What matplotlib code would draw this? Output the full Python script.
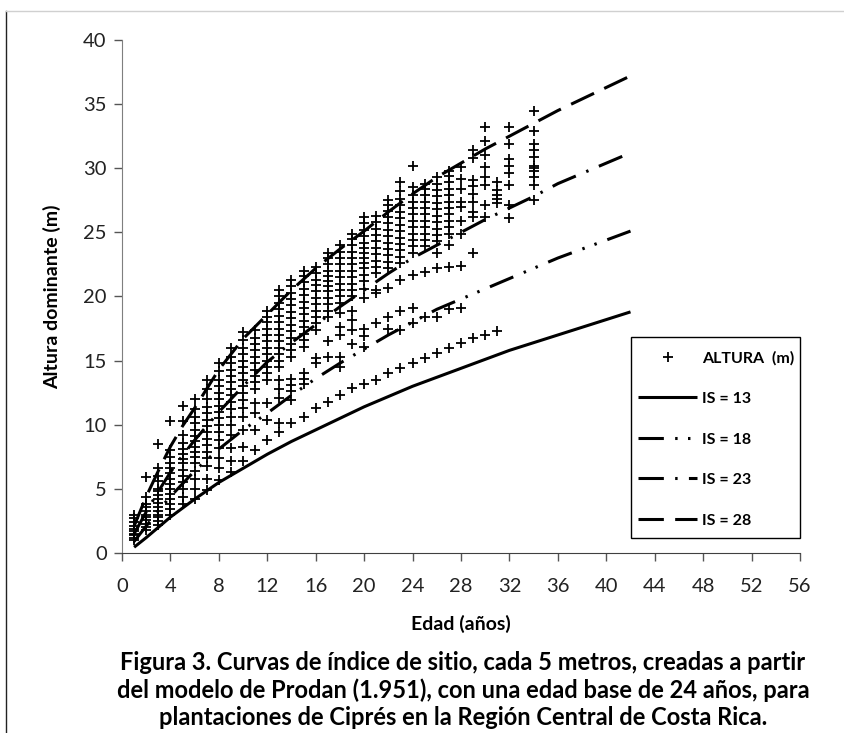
import matplotlib
matplotlib.use("Agg")
import matplotlib.pyplot as plt
from matplotlib.lines import Line2D
from matplotlib.patches import Rectangle

# observed dominant heights (m) by age (years)
edad_obs = [1, 2, 3, 4, 5, 6, 7, 8, 9, 10, 11, 12, 13, 14, 15, 16, 17,
            18, 19, 20, 21, 22, 23, 24, 25, 26, 27, 28, 29, 30, 31, 32, 34]
altura_obs = [
    [1.0, 1.2, 1.4, 1.5, 1.7, 1.9, 2.1, 2.4, 2.7, 3.0],
    [1.8, 2.0, 2.3, 2.6, 2.8, 3.0, 3.3, 3.6, 3.8, 4.4, 5.9],
    [2.2, 2.5, 2.8, 3.0, 3.3, 3.6, 3.9, 4.2, 4.5, 4.8, 5.0, 5.6, 6.0, 6.6, 8.5],
    [3.0, 3.4, 3.8, 4.2, 4.6, 5.0, 5.4, 5.8, 6.2, 6.6, 7.0, 7.5, 8.0, 10.3],
    [3.8, 4.4, 5.0, 5.5, 6.0, 6.5, 7.0, 7.3, 7.7, 8.1, 8.6, 9.2, 10.3, 11.5],
    [4.2, 5.0, 5.8, 6.4, 7.0, 7.5, 7.9, 8.3, 8.7, 9.1, 9.6, 10.1, 10.6, 11.2, 12.0],
    [4.9, 5.8, 6.8, 7.4, 7.9, 8.4, 8.9, 9.4, 9.9, 10.4, 10.9, 11.4, 12.0, 12.8, 13.5],
    [5.7, 6.6, 7.4, 8.2, 8.8, 9.4, 10.0, 10.5, 11.0, 11.5, 12.0, 12.5, 13.0, 13.5, 14.2, 14.8],
    [6.3, 7.2, 8.2, 9.2, 10.0, 10.6, 11.2, 11.8, 12.3, 12.8, 13.3, 13.8, 14.3, 14.8, 15.3, 16.0],
    [7.2, 8.3, 9.6, 10.6, 11.3, 11.9, 12.5, 13.0, 13.5, 14.0, 14.5, 15.0, 15.5, 16.0, 16.6, 17.2],
    [8.0, 9.6, 10.9, 11.7, 12.8, 13.3, 13.8, 14.3, 14.8, 15.3, 15.8, 16.3, 16.8, 17.4],
    [8.8, 10.4, 11.7, 13.5, 14.0, 14.5, 15.0, 15.5, 16.0, 16.5, 17.0, 17.5, 18.0, 18.4, 18.9],
    [9.4, 10.1, 12.1, 12.8, 13.5, 14.5, 15.0, 15.5, 16.0, 16.5, 17.0, 17.5, 18.0, 18.5, 19.0,
     19.5, 20.0, 20.5],
    [10.1, 11.9, 12.6, 13.1, 13.6, 15.3, 15.8, 16.3, 16.8, 17.3, 17.8, 18.3, 18.8, 19.3, 19.8,
     20.3, 20.8, 21.3],
    [10.6, 13.2, 13.6, 14.0, 16.1, 16.6, 17.1, 17.6, 18.1, 18.6, 19.1, 19.6, 20.1, 20.6, 21.1,
     21.6, 22.0],
    [11.3, 14.8, 15.2, 17.4, 17.9, 18.4, 18.9, 19.4, 19.9, 20.4, 20.9, 21.3, 21.8, 22.3],
    [11.8, 15.3, 16.5, 18.4, 18.9, 19.4, 19.9, 20.4, 20.8, 21.2, 21.6, 22.0, 22.5, 23.0, 23.4],
    [12.3, 14.5, 15.3, 17.0, 17.6, 18.7, 19.5, 20.0, 20.5, 21.0, 21.5, 22.0, 22.5, 23.0, 23.5, 24.0],
    [12.9, 16.3, 17.4, 18.2, 18.9, 20.0, 20.5, 21.0, 21.5, 22.0, 22.5, 23.0, 23.5, 24.0, 24.5, 24.9],
    [13.2, 16.1, 16.9, 17.5, 19.9, 20.6, 21.2, 21.7, 22.2, 22.6, 23.0, 23.4, 23.8, 24.2, 24.7,
     25.2, 25.7, 26.2],
    [13.5, 17.9, 20.3, 20.5, 21.8, 22.3, 22.8, 23.3, 23.8, 24.3, 24.8, 25.3, 25.8, 26.3],
    [14.0, 17.5, 18.4, 20.7, 22.2, 22.7, 23.2, 23.7, 24.2, 24.7, 25.2, 25.7, 26.2, 26.7, 27.1, 27.5],
    [14.4, 17.4, 18.9, 21.3, 22.6, 23.1, 23.6, 24.1, 24.6, 25.1, 25.6, 26.1, 26.6, 27.1, 27.6,
     28.2, 28.9],
    [14.8, 17.9, 19.1, 21.7, 23.4, 23.9, 24.4, 24.9, 25.4, 25.9, 26.4, 26.9, 27.4, 27.9, 28.5, 30.2],
    [15.2, 18.4, 21.9, 23.9, 24.4, 24.9, 25.4, 25.9, 26.4, 26.9, 27.4, 27.9, 28.4, 28.8],
    [15.6, 18.4, 22.2, 23.4, 24.3, 24.8, 25.3, 25.8, 26.3, 26.8, 27.3, 27.8, 28.3, 28.8, 29.3],
    [16.0, 19.0, 22.3, 24.0, 24.9, 25.4, 25.9, 26.4, 26.9, 27.4, 27.9, 28.4, 28.9, 29.4, 29.8],
    [16.4, 19.1, 22.4, 24.9, 25.9, 27.0, 27.4, 28.4, 29.2, 30.1],
    [16.8, 23.4, 26.2, 26.6, 27.4, 28.0, 28.6, 29.1, 30.8, 31.4],
    [17.0, 26.2, 27.1, 28.7, 29.3, 30.1, 31.0, 32.1, 33.2],
    [17.3, 27.3, 27.6, 27.9, 28.3, 28.9],
    [26.1, 27.1, 28.7, 29.6, 30.2, 30.7, 31.9, 33.2],
    [27.5, 28.7, 29.3, 29.8, 30.0, 30.2, 30.9, 31.4, 31.9, 32.9, 34.5],
]

# site index curves (Prodan)
edad_curva = [1, 2, 3, 4, 5, 6, 8, 10, 12, 14, 16, 18, 20, 22, 24,
              26, 28, 30, 32, 34, 36, 38, 40, 42]
is13 = [0.45, 1.2, 2.0, 2.8, 3.5, 4.2, 5.5, 6.6, 7.7, 8.7, 9.6, 10.5, 11.4, 12.2, 13.0,
        13.7, 14.4, 15.1, 15.8, 16.4, 17.0, 17.6, 18.2, 18.8]
is18 = [0.9, 2.1, 3.3, 4.4, 5.4, 6.4, 8.1, 9.6, 10.9, 12.3, 13.6, 14.8, 15.9, 17.0, 18.0,
        19.0, 19.8, 20.6, 21.4, 22.2, 23.0, 23.7, 24.4, 25.1]
is23 = [1.5, 3.2, 4.8, 6.3, 7.6, 8.8, 11.0, 13.0, 14.9, 16.4, 17.8, 19.2, 20.5, 21.8, 23.0,
        24.0, 25.0, 26.0, 26.9, 27.8, 28.8, 29.6, 30.4, 31.2]
is28 = [2.1, 4.4, 6.4, 8.3, 9.9, 11.3, 14.3, 16.7, 18.6, 20.5, 22.2, 23.7, 25.1, 26.6, 28.0,
        29.3, 30.4, 31.5, 32.5, 33.5, 34.5, 35.4, 36.3, 37.2]

FONT = ["Lato", "DejaVu Sans"]
plt.rcParams["font.family"] = FONT

W, H = 845, 733
fig = plt.figure(figsize=(W / 100, H / 100), dpi=100)
ax = fig.add_axes([122 / W, 1 - 553 / H, (800 - 122) / W, (553 - 40) / H])

xs, ys = [], []
for e, hs in zip(edad_obs, altura_obs):
    for h in hs:
        xs.append(e)
        ys.append(h)
ax.plot(xs, ys, linestyle="none", marker="+", color="black",
        markersize=7.5, markeredgewidth=1.3, label="ALTURA  (m)")

lw = 2.2
ax.plot(edad_curva, is13, color="black", lw=lw, solid_capstyle="butt", label="IS = 13")
ax.plot(edad_curva, is18, color="black", lw=lw,
        dashes=(8.3, 3.7, 0.8, 3.4, 0.8, 3.7), dash_capstyle="butt", label="IS = 18")
ax.plot(edad_curva, is23, color="black", lw=lw,
        dashes=(8.3, 3.7, 0.8, 3.7), dash_capstyle="butt", label="IS = 23")
ax.plot(edad_curva, is28, color="black", lw=lw,
        dashes=(8.3, 3.7), dash_capstyle="butt", label="IS = 28")

ax.set_xlim(0, 56)
ax.set_ylim(0, 40)
ax.set_xticks(range(0, 57, 4))
ax.set_yticks(range(0, 41, 5))
for s in ["top", "right"]:
    ax.spines[s].set_visible(False)
ax.spines["left"].set_color("#7f7f7f")
ax.spines["bottom"].set_color("#404040")
ax.tick_params(axis="both", direction="out", length=6, width=1, colors="#555555",
               labelsize=14.5, labelcolor="#222222")
ax.tick_params(axis="x", pad=12)
ax.tick_params(axis="y", pad=5)

ax.set_xlabel("Edad (años)", fontsize=14, fontweight="bold", labelpad=14)
ax.set_ylabel("Altura dominante (m)", fontsize=14, fontweight="bold", labelpad=16)

# legend: entries without frame, frame drawn as rectangle
leg = ax.legend(loc="upper left", bbox_to_anchor=(638 / W, 1 - 351 / H),
                bbox_transform=fig.transFigure, frameon=False,
                borderpad=0, borderaxespad=0,
                handlelength=3.7, handletextpad=0.3, labelspacing=1.65,
                prop={"family": FONT, "weight": "bold", "size": 11.5})
fig.add_artist(Rectangle((631 / W, 1 - 538 / H), 169 / W, 201 / H,
                         transform=fig.transFigure, fill=False,
                         edgecolor="black", lw=1.0))

caption = ("Figura 3. Curvas de índice de sitio, cada 5 metros, creadas a partir\n"
           "del modelo de Prodan (1.951), con una edad base de 24 años, para\n"
           "plantaciones de Ciprés en la Región Central de Costa Rica.")
fig.text(463 / W, 1 - 690 / H, caption, ha="center", va="center", fontsize=17,
         fontweight="bold", linespacing=1.22)

# page frame lines
fig.add_artist(Line2D([6 / W, 6 / W], [0, 1 - 11 / H], transform=fig.transFigure,
                      color="#222222", lw=1.0))
fig.add_artist(Line2D([6 / W, 1.0], [1 - 11 / H, 1 - 11 / H], transform=fig.transFigure,
                      color="#d0d0d0", lw=1.0))

fig.savefig("out.png", dpi=100)
